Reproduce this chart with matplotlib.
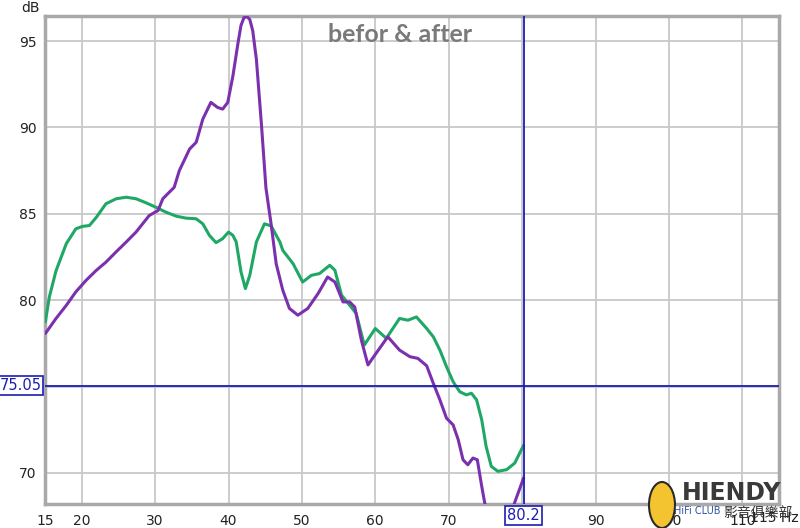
import matplotlib
matplotlib.use('Agg')
import matplotlib.pyplot as plt
import matplotlib.patches as mpatches
import matplotlib.transforms as mtransforms

# "after" (green) response, Hz / dB
after_hz = [15.05, 15.6, 16.5, 17.9, 19.2, 20.1, 21.05, 22.0, 23.3, 24.7, 26.05, 27.4, 28.8,
            30.1, 31.5, 32.9, 34.2, 35.6, 36.5, 37.4, 38.3, 39.2, 40.0, 40.6, 41.05, 41.7,
            42.3, 42.9, 43.8, 44.9, 45.8, 47.0, 47.4, 48.8, 50.1, 51.3, 52.4, 53.8, 54.5,
            55.4, 56.5, 57.4, 58.5, 60.0, 61.5, 63.3, 64.45, 65.6, 67.0, 67.9, 68.8, 69.7,
            70.6, 71.5, 72.4, 73.1, 73.8, 74.5, 75.1, 75.8, 76.7, 77.9, 79.0, 80.2]
after_db = [78.75, 80.2, 81.7, 83.27, 84.13, 84.27, 84.32, 84.8, 85.58, 85.87, 85.96, 85.87, 85.63,
            85.38, 85.09, 84.86, 84.75, 84.71, 84.42, 83.75, 83.33, 83.56, 83.94, 83.75, 83.37, 81.64,
            80.67, 81.44, 83.37, 84.42, 84.3, 83.37, 82.88, 82.11, 81.05, 81.44, 81.54, 82.02, 81.73,
            80.29, 79.71, 79.23, 77.4, 78.36, 77.79, 78.94, 78.84, 79.03, 78.36, 77.88, 77.11, 76.15,
            75.28, 74.7, 74.52, 74.61, 74.23, 73.07, 71.53, 70.38, 70.09, 70.19, 70.57, 71.6]

# "before" (purple) response, Hz / dB
before_hz = [15.05, 16.5, 17.9, 19.2, 20.6, 22.0, 23.3, 24.7, 26.05, 27.4, 28.3, 29.2, 30.4,
             31.05, 31.7, 32.6, 33.3, 34.7, 35.6, 36.5, 37.6, 38.5, 39.2, 39.9, 40.6, 41.3,
             41.7, 42.1, 42.5, 42.9, 43.3, 43.8, 44.5, 45.1, 45.8, 46.5, 47.4, 48.3, 49.45,
             50.8, 52.2, 53.5, 54.5, 55.6, 56.5, 57.2, 58.1, 59.0, 60.1, 61.7, 63.3, 64.7,
             65.8, 67.0, 67.9, 68.8, 69.7, 70.6, 71.3, 71.95, 72.6, 73.3, 73.9, 74.5, 74.9,
             75.7, 77.0, 78.3, 79.0, 80.2]
before_db = [78.07, 78.94, 79.7, 80.48, 81.15, 81.73, 82.2, 82.8, 83.36, 83.94, 84.42, 84.9, 85.19,
             85.87, 86.15, 86.53, 87.5, 88.75, 89.14, 90.48, 91.45, 91.16, 91.06, 91.45, 92.98, 94.9,
             95.9, 96.35, 96.42, 96.25, 95.6, 93.94, 90.1, 86.5, 84.42, 82.1, 80.57, 79.52, 79.13,
             79.52, 80.38, 81.34, 81.05, 79.9, 79.9, 79.6, 77.69, 76.25, 76.92, 77.88, 77.11, 76.73,
             76.63, 76.2, 75.19, 74.23, 73.17, 72.78, 71.92, 70.76, 70.47, 70.86, 70.76, 69.22, 68.28,
             67.0, 66.5, 67.3, 68.3, 69.7]

x_ticks = [15, 20, 30, 40, 50, 60, 70, 90, 100, 110]
y_ticks = [70, 80, 85, 90, 95]
cursor_hz = 80.2
cursor_db = 75.05

GRID = '#c8c8c8'
FRAME = '#a9a9a9'
CURSOR = '#1c1cb4'

fig = plt.figure(figsize=(8, 5.28), dpi=100)
ax = fig.add_axes([45 / 800, 24 / 528, 734 / 800, 488 / 528])

ax.set_xlim(15, 115)
ax.set_ylim(68.2, 96.45)

# grid
for f in [20, 30, 40, 50, 60, 70, 80, 90, 100, 110]:
    ax.axvline(f, color=GRID, lw=1.3, zorder=1)
for d in [70, 75, 80, 85, 90, 95]:
    ax.axhline(d, color=GRID, lw=1.3, zorder=1)

ax.plot(after_hz, after_db, color='#1fa865', lw=2.2, zorder=3,
        solid_capstyle='round', solid_joinstyle='round')
ax.plot(before_hz, before_db, color='#7b30ad', lw=2.2, zorder=4,
        solid_capstyle='round', solid_joinstyle='round')

# cursor
ax.axvline(cursor_hz, color=CURSOR, lw=1.3, zorder=5)
ax.axhline(cursor_db, color=CURSOR, lw=1.3, zorder=5)

ax.set_xticks(x_ticks)
ax.set_yticks(y_ticks)
ax.tick_params(length=0, labelsize=10, colors='#222222', pad=7)
ax.tick_params(axis='y', pad=6)

for s in ax.spines.values():
    s.set_color(FRAME)
    s.set_linewidth(2.5)

# cursor value boxes
tx = mtransforms.blended_transform_factory(ax.transData, ax.transAxes)
ax.text(cursor_hz, -0.008, '80.2', transform=tx, ha='center', va='top', fontsize=10.5,
        color=CURSOR, clip_on=False,
        bbox=dict(boxstyle='square,pad=0.12', fc='white', ec=CURSOR, lw=1.2))
ty = mtransforms.blended_transform_factory(ax.transAxes, ax.transData)
ax.text(-0.005, cursor_db, '75.05', transform=ty, ha='right', va='center', fontsize=10.5,
        color=CURSOR, clip_on=False,
        bbox=dict(boxstyle='square,pad=0.12', fc='white', ec=CURSOR, lw=1.2))

fig.text(30 / 800, 1 - 8 / 528, 'dB', ha='center', va='center', fontsize=10, color='#222222')
fig.text(799 / 800, 1 - 518 / 528, '115 Hz', ha='right', va='center', fontsize=10,
         color='#222222')

ax.text(0.484, 0.963, 'befor & after', transform=ax.transAxes, ha='center', va='center',
        fontsize=18, fontweight='bold', family='Lato', color='#7a7a7a', zorder=6)

# watermark logo
fig.patches.append(mpatches.Ellipse((662 / 800, 1 - 505 / 528), 26 / 800, 46 / 528,
                                    transform=fig.transFigure, fc='#f4c430', ec='#2a2a2a',
                                    lw=1.5, zorder=10))
fig.text(732 / 800, 1 - 493 / 528, 'HIENDY', ha='center', va='center', fontsize=17,
         fontweight='bold', color='#3a3a3a', family='DejaVu Sans', zorder=11)
fig.text(697 / 800, 1 - 511 / 528, 'HiFi CLUB', ha='center', va='center', fontsize=7,
         color='#3050a0', zorder=11)
fig.text(758 / 800, 1 - 513 / 528, '影音俱樂部', ha='center', va='center', fontsize=10,
         color='#333333', family=['Noto Sans CJK TC', 'DejaVu Sans'], zorder=11)

fig.savefig('out.png', dpi=100, facecolor='white')
